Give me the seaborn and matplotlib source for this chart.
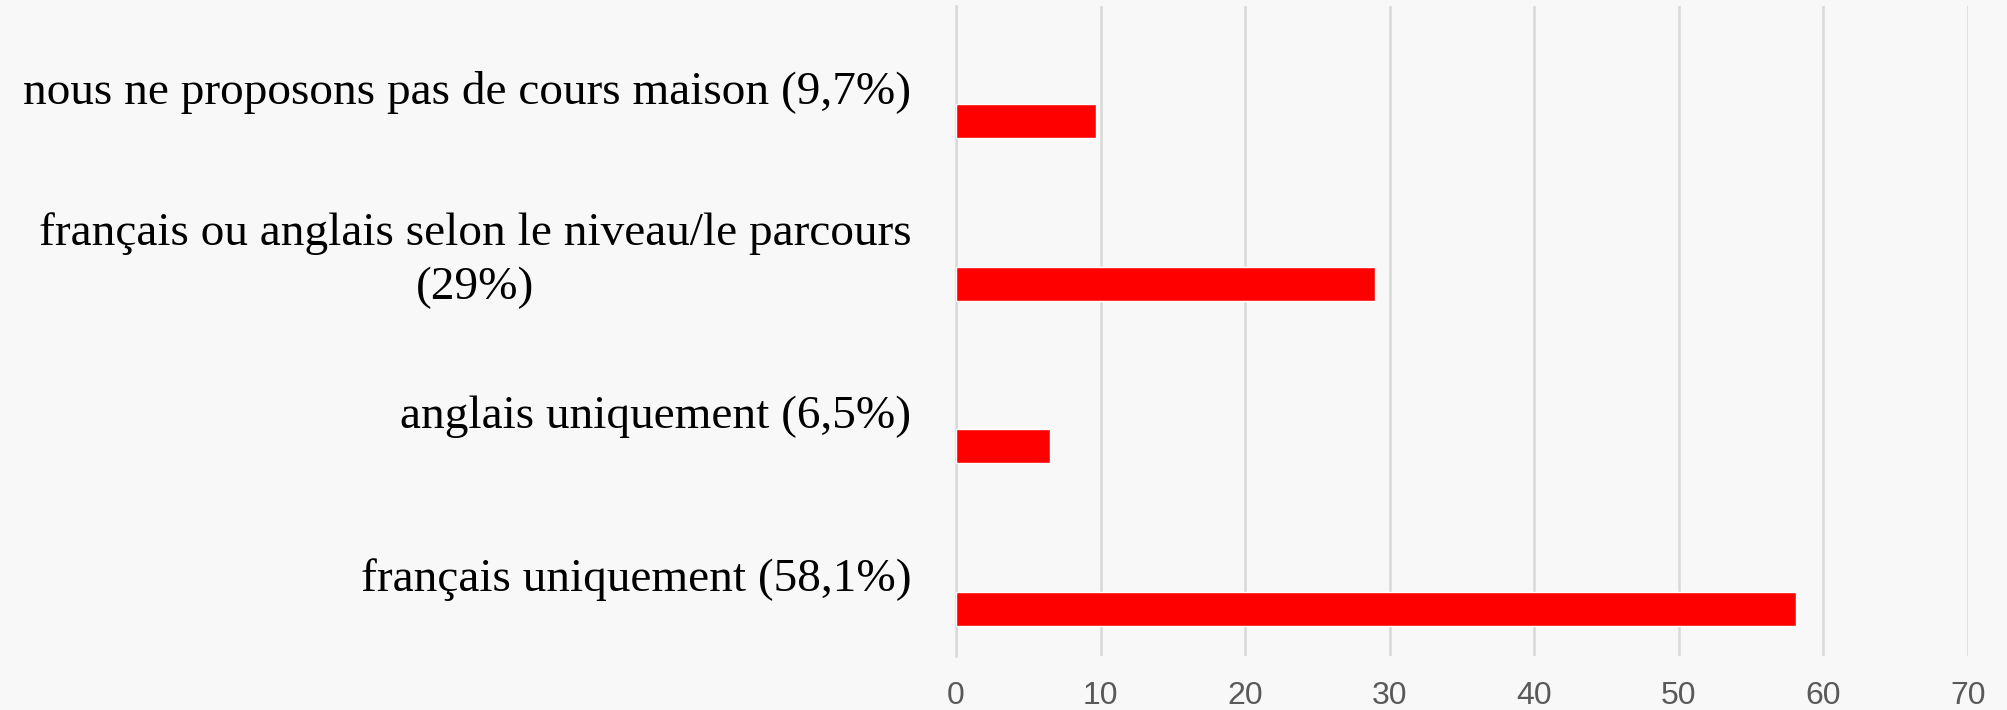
import matplotlib
matplotlib.use("Agg")
import matplotlib.pyplot as plt
import seaborn as sns
import numpy as np
import pandas as pd

# categories from top to bottom
categories = ["nous ne proposons pas de cours maison (9,7%)",
              "français ou anglais selon le niveau/le parcours\n(29%)",
              "anglais uniquement (6,5%)",
              "français uniquement (58,1%)"]
values = [9.7, 29, 6.5, 58.1]
x_ticks = [0, 10, 20, 30, 40, 50, 60, 70]

sns.set_theme(style="white")
bg = "#f8f8f8"
fig = plt.figure(figsize=(20.08, 7.10), dpi=100, facecolor=bg)
ax = fig.add_axes([0.4761, 0.0761, 0.504, 0.9155])
ax.set_facecolor(bg)

pos = np.arange(len(categories))
# bar sits a bit below its label, like the Excel chart with an empty second series
df = pd.DataFrame({"value": values, "pos": pos + 0.21})
sns.barplot(data=df, x="value", y="pos", orient="h", native_scale=True,
            width=0.21, color="#ff0000", saturation=1, ax=ax, zorder=3)

ax.set_xlim(0, 70)
ax.set_ylim(3.5, -0.5)
ax.set_xticks(x_ticks)
ax.set_yticks(pos, categories)
ax.set_xlabel("")
ax.set_ylabel("")

ax.set_axisbelow(True)
ax.xaxis.grid(True, color="#d9d9d9", lw=1.8)
ax.yaxis.grid(False)
for s in ["top", "right", "bottom"]:
    ax.spines[s].set_visible(False)
ax.spines["left"].set_color("#d9d9d9")
ax.spines["left"].set_linewidth(1.8)

ax.tick_params(axis="x", length=0, pad=18, labelsize=23, labelcolor="#595959")
ax.tick_params(axis="y", length=0, pad=32)
for t in ax.get_xticklabels():
    t.set_fontfamily("Liberation Sans")
for t in ax.get_yticklabels():
    t.set_fontfamily("Liberation Serif")
    t.set_fontsize(34)
    t.set_color("black")
    t.set_multialignment("center")
    t.set_linespacing(1.35)

fig.savefig("out.png", dpi=100, facecolor=bg)
